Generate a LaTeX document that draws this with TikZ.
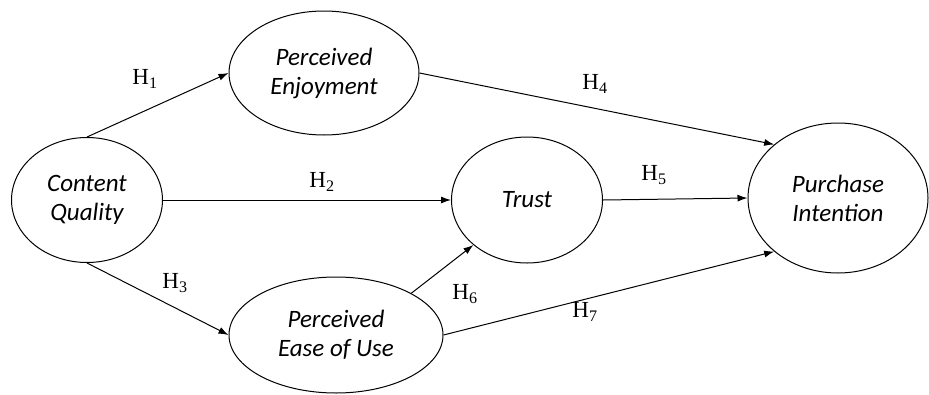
\documentclass[tikz,border=0pt]{standalone}
\usepackage{fontspec}
\setmainfont{Liberation Serif}
\newfontfamily\constructfont{Carlito}
\usetikzlibrary{shapes.geometric,arrows.meta}

\begin{document}
\begin{tikzpicture}[x=1pt,y=-1pt]
        \useasboundingbox (0,0) rectangle (929,394);
        \tikzstyle{construct}=[ellipse, draw, line width=1pt, inner sep=0pt, align=center, font=\constructfont\itshape\fontsize{25}{29}\selectfont];
        \tikzstyle{hyp}=[-{Latex[length=10pt,width=7pt]}, line width=1pt];
        \tikzstyle{hlabel}=[inner sep=0pt, font=\fontsize{23}{27}\selectfont];

        \node (quality) [construct, minimum width=151, minimum height=125] at (87,200) {Content\\Quality};
        \node (enjoy) [construct, minimum width=190, minimum height=124] at (324,73) {Perceived\\Enjoyment};
        \node (trust) [construct, minimum width=151, minimum height=126] at (527,200) {Trust};
        \node (ease) [construct, minimum width=214, minimum height=116] at (336,335) {Perceived\\Ease of Use};
        \node (intention) [construct, minimum width=180, minimum height=150] at (838,198) {Purchase\\Intention};

        \draw[hyp] (quality.north) -- (enjoy.west);
        \draw[hyp] (quality.east) -- (trust.west);
        \draw[hyp] (quality.south) -- (ease.west);
        \draw[hyp] (enjoy.east) -- (intention.140);
        \draw[hyp] (trust.east) -- (intention.west);
        \draw[hyp] (ease.29) -- (trust.220);
        \draw[hyp] (ease.east) -- (intention.220);

        \node (h1) [hlabel] at (145,79) {H\textsubscript{1}};
        \node (h2) [hlabel] at (322,182) {H\textsubscript{2}};
        \node (h3) [hlabel] at (175,283) {H\textsubscript{3}};
        \node (h4) [hlabel] at (595,84) {H\textsubscript{4}};
        \node (h5) [hlabel] at (654,175) {H\textsubscript{5}};
        \node (h6) [hlabel] at (465,294) {H\textsubscript{6}};
        \node (h7) [hlabel] at (585,312) {H\textsubscript{7}};
\end{tikzpicture}
\end{document}
